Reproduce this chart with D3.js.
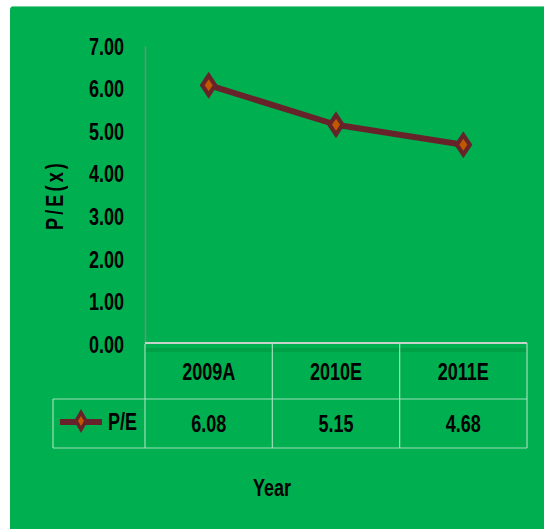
<!DOCTYPE html>
<html><head><meta charset="utf-8">
<script src="https://cdn.jsdelivr.net/npm/d3@7"></script>
<style>
html,body{margin:0;padding:0;background:#fff;}
text{font-family:"Liberation Sans",Arial,sans-serif;font-weight:bold;fill:#000;}
</style></head>
<body>
<svg id="c" width="544" height="529"></svg>
<script>
const categories = ["2009A", "2010E", "2011E"];
const peValues = [6.08, 5.15, 4.68];
const yTicks = [0, 1, 2, 3, 4, 5, 6, 7];
const seriesName = "P/E";
const yTitle = "P/E(x)";
const xTitle = "Year";

const svg = d3.select("#c");
const GREEN = "#00B050", LINE = "#66232A", INNER = "#C05800";
const SX = 0.9, SY = 1.15, FS = 20;
const st = (tx, ty, rot) => `translate(${tx},${ty})${rot ? " rotate(" + rot + ")" : ""} scale(${SX},${SY})`;

svg.append("rect").attr("x", 10).attr("y", 6).attr("width", 545).attr("height", 530)
  .attr("rx", 4).attr("fill", GREEN);
svg.append("line").attr("x1", 12).attr("x2", 544).attr("y1", 6.5).attr("y2", 6.5)
  .attr("stroke", "#6fd29a").attr("stroke-width", 1);

const x = d3.scaleBand().domain(categories).range([145, 527]);
const y = d3.scaleLinear().domain([0, 7]).range([344, 46]);

// y axis
const yAxis = d3.axisLeft(y).tickValues(yTicks).tickSize(0).tickSizeOuter(0)
  .tickPadding(21).tickFormat(d3.format(".2f"));
const ga = svg.append("g").attr("transform", "translate(145,0)").call(yAxis);
ga.select(".domain").attr("stroke", "#6f8f7a").attr("stroke-width", 1.5);
ga.selectAll("text").attr("font-size", FS).attr("fill", "#000")
  .attr("font-family", null).attr("x", 0).attr("dy", "0.36em")
  .attr("transform", st(-21, 0));

// table
const rowTop = 343, rowMid = 399, rowBot = 448, legLeft = 53;
svg.append("rect").attr("x", 145).attr("y", 348).attr("width", 382).attr("height", 4)
  .attr("fill", "#00a047");
const tcol = "#9ee0b8";
svg.append("line").attr("x1", 145).attr("x2", 527).attr("y1", rowTop).attr("y2", rowTop)
  .attr("stroke", "#c8d0cc").attr("stroke-width", 2);
svg.append("line").attr("x1", legLeft).attr("x2", 527).attr("y1", rowMid).attr("y2", rowMid)
  .attr("stroke", tcol).attr("stroke-width", 1.2);
svg.append("line").attr("x1", legLeft).attr("x2", 527).attr("y1", rowBot).attr("y2", rowBot)
  .attr("stroke", tcol).attr("stroke-width", 1.2);
svg.append("line").attr("x1", legLeft).attr("x2", legLeft).attr("y1", rowMid).attr("y2", rowBot)
  .attr("stroke", tcol).attr("stroke-width", 1.2);
const bounds = categories.map(c => x(c)).concat([x.range()[1]]);
svg.selectAll(".vl").data(bounds).enter().append("line")
  .attr("x1", d => d).attr("x2", d => d).attr("y1", (d, i) => i === 0 ? rowTop + 1 : rowTop)
  .attr("y2", rowBot).attr("stroke", tcol).attr("stroke-width", 1.2);

svg.selectAll(".hd").data(categories).enter().append("text")
  .attr("transform", d => st(x(d) + x.bandwidth() / 2, 372)).attr("dy", "0.36em")
  .attr("text-anchor", "middle").attr("font-size", FS).text(d => d);
svg.selectAll(".vv").data(peValues).enter().append("text")
  .attr("transform", (d, i) => st(x(categories[i]) + x.bandwidth() / 2, 424)).attr("dy", "0.36em")
  .attr("text-anchor", "middle").attr("font-size", FS).text(d => d3.format(".2f")(d));

// legend key
const diamond = (w, h) => `M0,${-h}L${w},0L0,${h}L${-w},0Z`;
svg.append("line").attr("x1", 60).attr("x2", 102).attr("y1", 422).attr("y2", 422)
  .attr("stroke", LINE).attr("stroke-width", 6);
svg.append("path").attr("d", diamond(7, 12)).attr("transform", "translate(81,421)").attr("fill", LINE);
svg.append("path").attr("d", diamond(3, 5)).attr("transform", "translate(81,421)").attr("fill", INNER);
svg.append("text").attr("transform", st(108, 422)).attr("dy", "0.36em").attr("font-size", FS).text(seriesName);

// series line
const pts = categories.map((c, i) => [x(c) + x.bandwidth() / 2, y(peValues[i])]);
svg.append("path").datum(pts).attr("d", d3.line()).attr("fill", "none")
  .attr("stroke", LINE).attr("stroke-width", 6).attr("stroke-linejoin", "round");
svg.selectAll(".mk").data(pts).enter().append("path")
  .attr("d", diamond(9, 13.5)).attr("transform", d => `translate(${d[0]},${d[1]})`).attr("fill", LINE);
svg.selectAll(".mi").data(pts).enter().append("path")
  .attr("d", diamond(4, 6)).attr("transform", d => `translate(${d[0]},${d[1]})`).attr("fill", INNER);

// titles
svg.append("text").attr("transform", st(55, 195, -90)).attr("dy", "0.36em")
  .attr("text-anchor", "middle").attr("font-size", FS).attr("letter-spacing", 3.5).text(yTitle);
svg.append("text").attr("transform", st(272, 488)).attr("dy", "0.36em")
  .attr("text-anchor", "middle").attr("font-size", FS).text(xTitle);
</script>
</body></html>
